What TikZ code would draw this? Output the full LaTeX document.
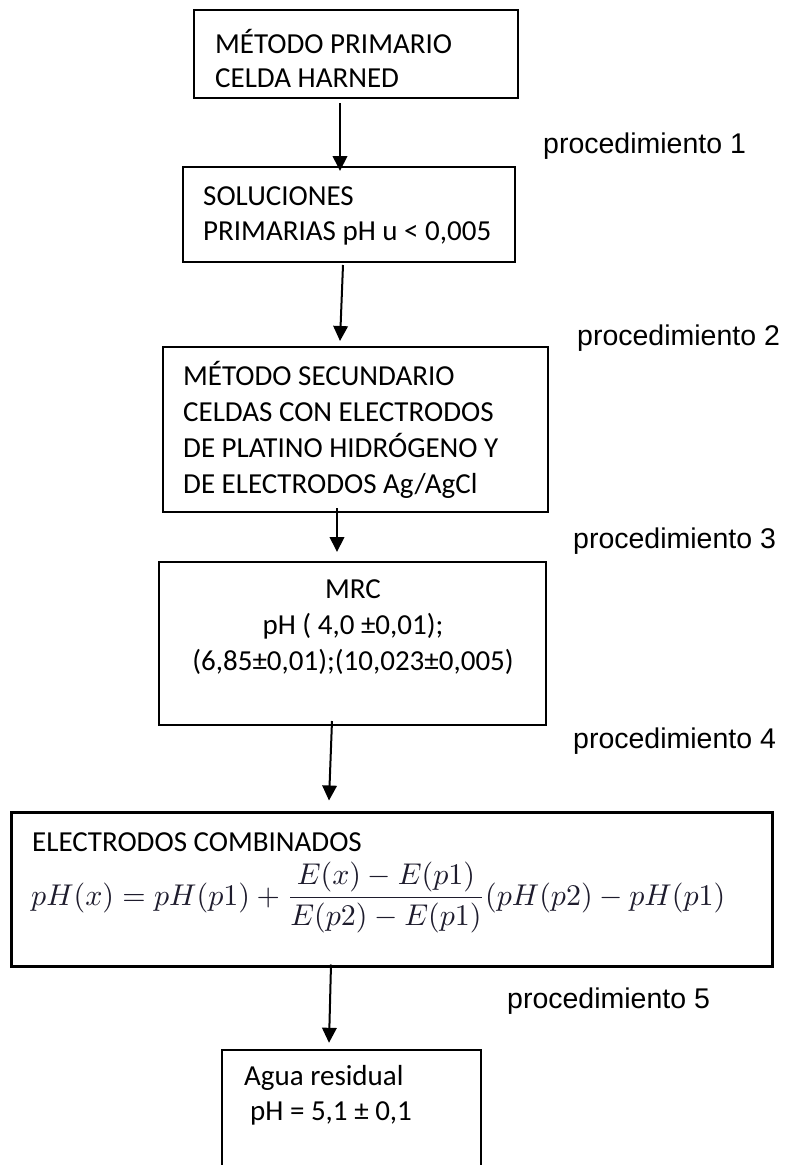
\documentclass[tikz,border=0pt]{standalone}
\usepackage{fontspec}
\usepackage{amsmath}
\usepackage{graphicx}
\usetikzlibrary{arrows.meta}
\newfontfamily\boxfont{Carlito}
\newfontfamily\procfont{Liberation Sans}
\definecolor{mathink}{RGB}{30,28,45}

\tikzset{
  box/.style={draw=black, line width=2pt, inner sep=0pt, fill=none},
  bigbox/.style={box, line width=3pt},
  ghost/.style={inner sep=0pt},
  line/.style={anchor=base west, inner sep=0pt,
    font=\boxfont\fontsize{29}{35}\selectfont},
  cline/.style={anchor=base, inner sep=0pt,
    font=\boxfont\fontsize{29}{35}\selectfont},
  proc/.style={anchor=base west, inner sep=0pt,
    font=\procfont\fontsize{28.5}{34}\selectfont},
  arr/.style={line width=2pt, -{Triangle[width=14.5pt,length=15pt]}}
}

\begin{document}
\begin{tikzpicture}[x=1pt, y=-1pt]
\useasboundingbox (0,0) rectangle (788,1165);

% ---- boxes ----
\node[box, minimum width=324pt, minimum height=88pt]  (b1) at (356,54)    {};
\node[box, minimum width=332pt, minimum height=95pt]  (b2) at (349,214.5) {};
\node[box, minimum width=385pt, minimum height=165pt] (b3) at (355.5,429.5) {};
\node[box, minimum width=387pt, minimum height=163pt] (b4) at (352.5,643.5) {};
\node[bigbox, minimum width=761pt, minimum height=154pt] (b5) at (391.5,889) {};
% last box runs past the lower edge of the page
\node[ghost, minimum width=259pt, minimum height=140pt] (b6) at (351.5,1120) {};
\draw[line width=2pt] (b6.south west) |- (b6.north east) -- (b6.south east);

% ---- box texts ----
\node[line] (t1a) at (215,53)  {MÉTODO PRIMARIO};
\node[line] (t1b) at (215,87)  {CELDA HARNED};

\node[line] (t2a) at (203,205) {SOLUCIONES};
\node[line] (t2b) at (203,240) {PRIMARIAS pH u < 0,005};

\node[line] (t3a) at (183,385) {MÉTODO SECUNDARIO};
\node[line] (t3b) at (183,421) {CELDAS CON ELECTRODOS};
\node[line] (t3c) at (183,457) {DE PLATINO HIDRÓGENO Y};
\node[line] (t3d) at (183,493) {DE ELECTRODOS Ag/AgCl};

\node[cline] (t4a) at (353,598) {MRC};
\node[cline] (t4b) at (353,634) {pH ( 4,0 ±0,01);};
\node[cline] (t4c) at (353,670) {(6,85±0,01);(10,023±0,005)};

\node[line] (t5a) at (32,851) {ELECTRODOS COMBINADOS};
\node[anchor=base west, inner sep=0pt, text=mathink] (t5b) at (31,905)
  {\scalebox{3}{$\displaystyle pH(x) = pH(p1) + \frac{E(x) - E(p1)}{E(p2) - E(p1)}(pH(p2) - pH(p1)$}};

\node[line] (t6a) at (244,1085) {Agua residual};
\node[line] (t6b) at (250,1120) {pH = 5,1 ± 0,1};

% ---- step labels ----
\node[proc] (p1) at (543,153)  {procedimiento 1};
\node[proc] (p2) at (577,345)  {procedimiento 2};
\node[proc] (p3) at (573,548)  {procedimiento 3};
\node[proc] (p4) at (573,748)  {procedimiento 4};
\node[proc] (p5) at (507,1008) {procedimiento 5};

% ---- arrows ----
\draw[arr] ([xshift=-16pt,yshift=-4pt]b1.south)   -- ([xshift=-9pt,yshift=-5pt]b2.north);
\draw[arr] ([xshift=-6pt,yshift=-2pt]b2.south)    -- ([xshift=-15.5pt,yshift=5pt]b3.north);
\draw[arr] ([xshift=-18.5pt,yshift=5pt]b3.south)  -- ([xshift=-15.5pt,yshift=9pt]b4.north);
\draw[arr] ([xshift=-20.5pt,yshift=5pt]b4.south)  -- ([xshift=-62.5pt,yshift=10pt]b5.north);
\draw[arr] ([xshift=-60.5pt,yshift=3pt]b5.south)  -- ([xshift=-22.5pt,yshift=7pt]b6.north);
\end{tikzpicture}
\end{document}
